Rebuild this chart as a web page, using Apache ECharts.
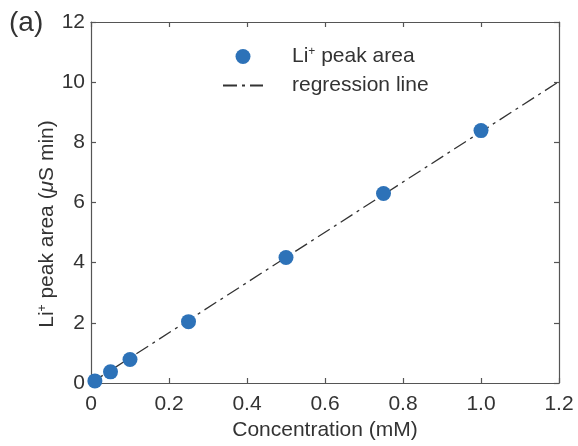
<!DOCTYPE html>
<html>
<head>
<meta charset="utf-8">
<script src="https://cdn.jsdelivr.net/npm/echarts@6/dist/echarts.min.js"></script>
<style>html,body{margin:0;padding:0;background:#fff}#c{width:578px;height:446px}</style>
</head>
<body>
<div id="c"></div>
<script>
const concentration = [0.01, 0.05, 0.1, 0.25, 0.5, 0.75, 1.0];
const peakArea = [0.07, 0.37, 0.78, 2.04, 4.17, 6.30, 8.39];
const regressionX = [0, 1.2];
const regressionY = [0.0, 10.02];
const xTicks = [0, 0.2, 0.4, 0.6, 0.8, 1.0, 1.2];
const yTicks = [0, 2, 4, 6, 8, 10, 12];

const FONT = 'Liberation Sans, Arial, Helvetica, sans-serif';
const TXT = '#333';
const AX = '#555';
const FS = 21;

const chart = echarts.init(document.getElementById('c'), null, {renderer: 'canvas'});
const xLabel = v => (v === 0 ? '0' : v.toFixed(1));
const baseAxis = {
  axisLine: {show: true, onZero: false, lineStyle: {color: AX, width: 1.2}},
  axisTick: {show: true, inside: true, length: 5, lineStyle: {color: AX, width: 1.2}},
  splitLine: {show: false}
};
const supStyle = {fontFamily: FONT, fontSize: 12, color: TXT, verticalAlign: 'top', padding: [0, 0, 9, 0]};
chart.setOption({
  animation: false,
  backgroundColor: '#fff',
  grid: {left: 91, right: 19, top: 22, bottom: 62, containLabel: false},
  graphic: [
    {type: 'text', left: 9, top: 9, style: {text: '(a)', font: '28px ' + FONT, fill: TXT}},
    {type: 'text', x: 47, y: 224, rotation: Math.PI / 2,
      style: {text: '{a|Li}{sup|+}{a| peak area (}{i|μ}{a|S min)}', align: 'center', verticalAlign: 'middle',
        font: FS + 'px ' + FONT, fill: TXT,
        rich: {a: {fontFamily: FONT, fontSize: FS, color: TXT}, i: {fontFamily: FONT, fontSize: FS, color: TXT, fontStyle: 'italic'}, sup: supStyle}}}
  ],
  legend: {
    orient: 'vertical', left: 217, top: 41, itemWidth: 40, itemHeight: 15, itemGap: 8,
    textStyle: {fontFamily: FONT, fontSize: FS, color: TXT, padding: [0, 0, 0, 24],
      rich: {a: {fontFamily: FONT, fontSize: FS, color: TXT}, sup: supStyle}},
    formatter: n => n === 'peak' ? '{a|Li}{sup|+}{a| peak area}' : '{a|regression line}',
    data: [{name: 'peak', icon: 'circle'}, {name: 'regression', itemStyle: {opacity: 0}}]
  },
  xAxis: [
    Object.assign({}, baseAxis, {type: 'value', min: 0, max: 1.2, interval: 0.2, position: 'bottom',
      axisLabel: {fontFamily: FONT, fontSize: FS, color: TXT, margin: 11, formatter: xLabel},
      name: 'Concentration (mM)', nameLocation: 'middle', nameGap: 37,
      nameTextStyle: {fontFamily: FONT, fontSize: FS, color: TXT}}),
    Object.assign({}, baseAxis, {type: 'value', min: 0, max: 1.2, interval: 0.2, position: 'top', axisLabel: {show: false}})
  ],
  yAxis: [
    Object.assign({}, baseAxis, {type: 'value', min: 0, max: 12, interval: 2, position: 'left',
      axisLabel: {fontFamily: FONT, fontSize: FS, color: TXT, margin: 6}}),
    Object.assign({}, baseAxis, {type: 'value', min: 0, max: 12, interval: 2, position: 'right', axisLabel: {show: false}})
  ],
  series: [
    {name: 'regression', type: 'line', xAxisIndex: 0, yAxisIndex: 0, symbol: 'none', z: 2,
      lineStyle: {color: '#333', width: 1.3, type: [14, 5, 3, 5]},
      itemStyle: {color: '#333'},
      data: regressionX.map((x, i) => [x, regressionY[i]])},
    {name: 'peak', type: 'scatter', xAxisIndex: 0, yAxisIndex: 0, symbolSize: 15, z: 3,
      itemStyle: {color: '#2d72b8', opacity: 1},
      data: concentration.map((x, i) => [x, peakArea[i]])}
  ]
});
</script>
</body>
</html>
